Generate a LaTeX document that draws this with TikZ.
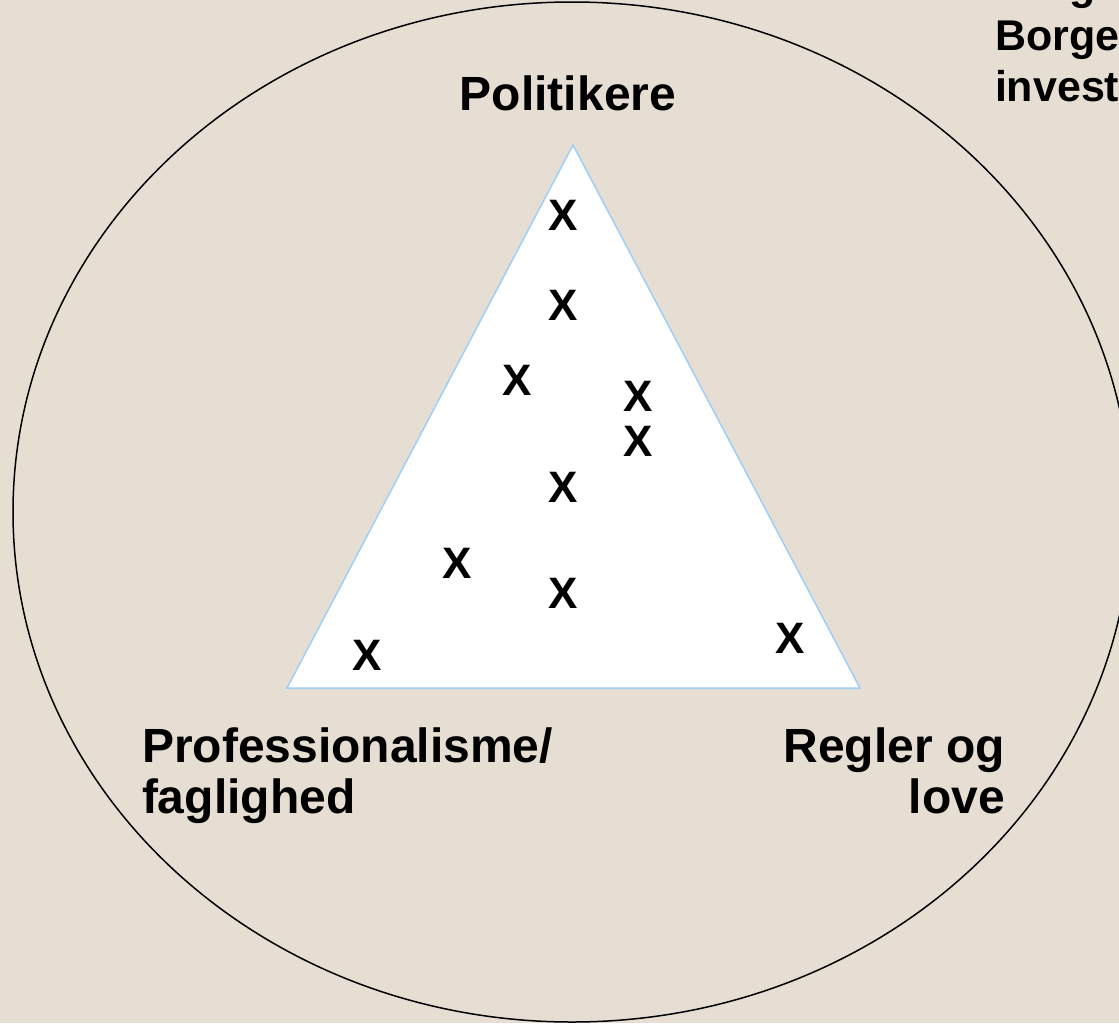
\documentclass[tikz,border=0pt]{standalone}
\usepackage{fontspec}
\usepackage{xcolor}
\setmainfont{Liberation Sans}
\definecolor{paper}{HTML}{E7DED3}
\definecolor{edge}{HTML}{9DCFFB}
\definecolor{ink}{HTML}{000000}

\begin{document}
\begin{tikzpicture}[x=0.5pt, y=-0.5pt,
    every node/.style={inner sep=0pt, outer sep=0pt, text=ink},
    corner/.style={font=\fontsize{24}{25.5}\selectfont\bfseries},
    xmark/.style={font=\fontsize{22}{22}\selectfont\bfseries}]
  \useasboundingbox (0,0) rectangle (1119,1023);
  \clip (0,0) rectangle (1119,1023);
  \fill[paper] (0,0) rectangle (1119,1023);
  % Ring
  \draw[ink, line width=0.75pt] (572,512) ellipse [x radius=559, y radius=510];
  % Triangle
  \fill[white, draw=edge, line width=0.75pt] (573,145) -- (287,688) -- (860,688) -- cycle;
  % Headers (base = last line)
  \node[corner, anchor=base] (pol) at (568,110) {Politikere};
  \node[corner, anchor=base west, align=left] (prof) at (142,813) {Professionalisme/\\faglighed};
  \node[corner, anchor=base east, align=right] (regl) at (1005,813) {Regler og\\love};
  \node[font=\fontsize{21.5}{25.5}\selectfont\bfseries, anchor=base west, align=left] (borg) at (995,101) {Brugere og\\Borgere\\investorer};
  % Marks
  \node[xmark] (x1) at (563,215) {X};
  \node[xmark] (x2) at (563,305) {X};
  \node[xmark] (x3) at (517,380) {X};
  \node[xmark] (x4) at (638,396) {X};
  \node[xmark] (x5) at (638,441) {X};
  \node[xmark] (x6) at (563,487) {X};
  \node[xmark] (x7) at (457,563) {X};
  \node[xmark] (x8) at (563,593) {X};
  \node[xmark] (x9) at (367,655) {X};
  \node[xmark] (x10) at (790,638) {X};
\end{tikzpicture}
\end{document}
